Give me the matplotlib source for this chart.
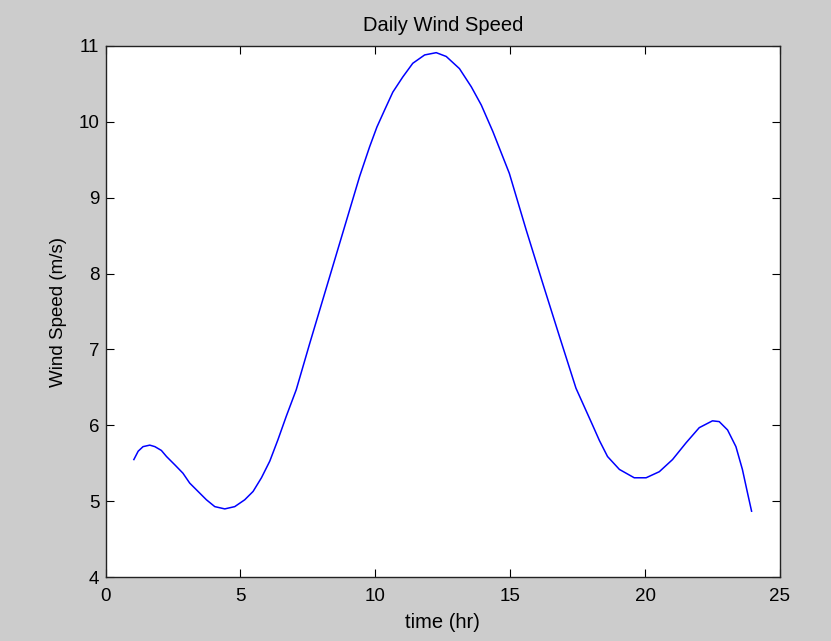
import matplotlib
matplotlib.use('Agg')
import matplotlib.pyplot as plt

# wind speed over the day (hr, m/s)
hours = [1.05, 1.21, 1.39, 1.64, 1.83, 2.07, 2.26, 2.57, 2.87, 3.12,
         3.43, 3.74, 4.05, 4.42, 4.79, 5.16, 5.47, 5.78, 6.09, 6.39,
         6.70, 7.07, 7.57, 8.31, 8.68, 9.05, 9.42, 9.79, 10.06, 10.34,
         10.65, 11.02, 11.39, 11.83, 12.26, 12.63, 13.12, 13.56, 13.93, 14.36,
         14.97, 15.59, 16.21, 16.83, 17.44, 18.06, 18.31, 18.61, 19.05, 19.60,
         20.04, 20.53, 21.02, 21.52, 22.01, 22.50, 22.75, 23.06, 23.37, 23.61,
         23.80, 23.95]
speed = [5.55, 5.66, 5.72, 5.74, 5.72, 5.67, 5.59, 5.48, 5.37, 5.24,
         5.13, 5.02, 4.93, 4.90, 4.93, 5.02, 5.13, 5.31, 5.53, 5.81,
         6.12, 6.47, 7.08, 7.96, 8.40, 8.84, 9.28, 9.67, 9.93, 10.15,
         10.39, 10.59, 10.77, 10.88, 10.91, 10.86, 10.70, 10.46, 10.22, 9.87,
         9.32, 8.58, 7.87, 7.17, 6.49, 6.00, 5.80, 5.59, 5.42, 5.31,
         5.31, 5.39, 5.55, 5.77, 5.97, 6.06, 6.05, 5.94, 5.72, 5.42,
         5.11, 4.87]

x_ticks = [0, 5, 10, 15, 20, 25]
y_ticks = [4, 5, 6, 7, 8, 9, 10, 11]

plt.rcParams['font.family'] = ['Liberation Sans', 'DejaVu Sans']
FS = 13.5

fig = plt.figure(figsize=(8.31, 6.41), dpi=100, facecolor='#cccccc')
ax = fig.add_axes([0.127, 0.0995, 0.8115, 0.829])
ax.set_facecolor('white')

ax.plot(hours, speed, color='#0000ff', lw=1.1, solid_joinstyle='round')

ax.set_xlim(0, 25)
ax.set_ylim(4, 11)
ax.set_xticks(x_ticks)
ax.set_yticks(y_ticks)
ax.tick_params(direction='in', length=6, width=0.8, top=True, right=True,
               labelsize=FS, colors='black')
ax.tick_params(axis='x', pad=7.5)
ax.tick_params(axis='y', pad=4.5)
for sp in ax.spines.values():
    sp.set_linewidth(1.0)
    sp.set_color('#222222')

ax.set_title('Daily Wind Speed', fontsize=14.5, pad=11)
ax.set_xlabel('time (hr)', fontsize=14.5, labelpad=6)
ax.set_ylabel('Wind Speed (m/s)', fontsize=FS, labelpad=8)

fig.savefig('out.png', dpi=100, facecolor=fig.get_facecolor())
